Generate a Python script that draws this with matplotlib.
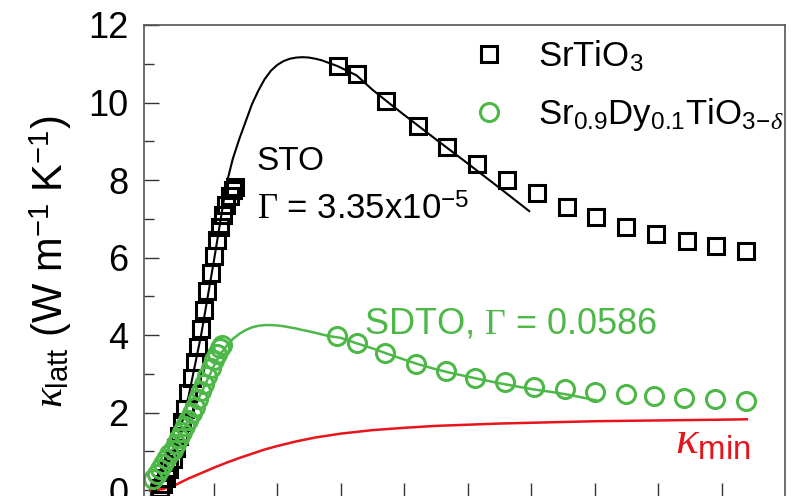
import numpy as np
import matplotlib
matplotlib.use('Agg')
import matplotlib.pyplot as plt

plt.rcParams['font.family'] = ['Liberation Sans', 'DejaVu Sans']
plt.rcParams['mathtext.fontset'] = 'custom'
plt.rcParams['mathtext.rm'] = 'Liberation Sans'
plt.rcParams['mathtext.it'] = 'Liberation Serif:italic'
plt.rcParams['mathtext.sf'] = 'Liberation Serif'   # serif Gamma via \mathsf

# SrTiO3 measured points (T in K, kappa in W/mK)
sto_T = [1.5, 2.0, 2.5, 3.0, 3.5, 4.0, 4.5, 5.0, 5.5, 6.0, 6.5, 7.0, 7.5, 8.0,
         8.5, 9.0, 9.5, 10.0, 10.5, 11.0, 11.5, 12.0, 12.5, 13.0, 13.3,
         29.5, 32.5, 37.2, 42.1, 46.8, 51.5, 56.2, 60.9, 65.6, 70.3, 75.0,
         79.7, 84.5, 89.2, 93.9]
sto_k = [0.05, 0.15, 0.32, 0.55, 0.8, 1.08, 1.4, 1.75, 2.1, 2.5, 2.9, 3.3, 3.7,
         4.15, 4.65, 5.15, 5.6, 6.05, 6.45, 6.8, 7.1, 7.35, 7.58, 7.75, 7.82,
         10.94, 10.74, 10.04, 9.39, 8.85, 8.41, 8.0, 7.66, 7.30, 7.05, 6.79,
         6.61, 6.43, 6.30, 6.17]

# Sr0.9Dy0.1TiO3-d measured points
sdto_T = [0.5, 1.0, 1.5, 2.0, 2.5, 3.0, 3.5, 4.0, 4.5, 5.0, 5.5, 6.0, 6.5,
          7.0, 7.5, 8.0, 8.5, 9.0, 9.5, 10.0, 10.5, 11.0, 11.3,
          29.4, 32.5, 37.0, 41.9, 46.6, 51.2, 55.9, 60.4, 65.3, 70.0, 74.9,
          79.4, 84.1, 89.0, 93.9]
sdto_k = [0.3, 0.42, 0.55, 0.68, 0.8, 0.93, 1.05, 1.2, 1.35, 1.5, 1.65, 1.8,
          1.98, 2.15, 2.35, 2.55, 2.75, 2.95, 3.15, 3.35, 3.52, 3.67, 3.74,
          3.97, 3.79, 3.54, 3.25, 3.07, 2.89, 2.79, 2.66, 2.61, 2.53, 2.48,
          2.43, 2.37, 2.35, 2.30]

# Callaway model fits
fit_sto_T = [0, 2, 4, 6, 8, 10, 11, 12, 13, 14, 15, 16, 17, 18, 19, 20, 21, 22,
             23, 24, 25, 26, 27, 28, 29.5, 32.5, 35, 37.2, 40, 45, 50, 55, 59.7]
fit_sto_k = [0, 0.3, 1.1, 2.4, 4.0, 5.9, 6.9, 7.9, 8.55, 9.05, 9.5, 9.95, 10.3,
             10.6, 10.82, 10.97, 11.07, 11.13, 11.16, 11.17, 11.16, 11.13,
             11.09, 11.03, 10.94, 10.7, 10.33, 10.04, 9.68, 9.05, 8.43, 7.8, 7.2]

fit_sdto_T = [0, 2, 4, 6, 8, 10, 11, 12, 13, 14, 15, 16, 17, 18, 19, 20, 21, 22,
              23, 24, 25, 26, 27, 28, 30, 32.5, 35, 37, 40, 42, 45, 47, 50, 52,
              55, 58, 60, 63, 66, 70.2]
fit_sdto_k = [0, 0.62, 1.2, 1.8, 2.5, 3.2, 3.5, 3.72, 3.9, 4.03, 4.13, 4.2,
              4.24, 4.26, 4.26, 4.25, 4.23, 4.2, 4.17, 4.13, 4.1, 4.06, 4.02,
              3.98, 3.93, 3.79, 3.66, 3.54, 3.37, 3.26, 3.12, 3.04, 2.93, 2.86,
              2.76, 2.67, 2.61, 2.54, 2.46, 2.32]

# minimum thermal conductivity
kmin_T = [0, 2, 4, 6, 8, 10, 12, 14, 16, 18, 20, 23, 26, 30, 35, 40, 45, 50,
          55, 60, 65, 70, 75, 80, 85, 90, 94]
kmin_k = [0, 0.03, 0.14, 0.3, 0.44, 0.58, 0.71, 0.83, 0.94, 1.05, 1.14, 1.26,
          1.36, 1.46, 1.55, 1.61, 1.66, 1.69, 1.72, 1.74, 1.76, 1.78, 1.79,
          1.80, 1.81, 1.82, 1.83]

green = '#4db848'
red = '#e8141b'

fig = plt.figure(figsize=(7.95, 4.96), dpi=100)
ax = fig.add_axes([0.1811, -0.004, 0.8063, 0.9536])

ax.plot(fit_sto_T, fit_sto_k, color='black', lw=1.5)
ax.plot(fit_sdto_T, fit_sdto_k, color=green, lw=1.8)
ax.plot(kmin_T, kmin_k, color=red, lw=1.8)
ax.plot(sto_T, sto_k, 's', ms=12, mfc='none', mec='black', mew=2.2,
        label=r'SrTiO$_3$')
ax.plot(sdto_T, sdto_k, 'o', ms=13, mfc='none', mec=green, mew=2.2,
        label=r'Sr$_{0.9}$Dy$_{0.1}$TiO$_{3\!-\!\delta}$')

ax.text(16.8, 8.26, 'STO', fontsize=24)
ax.text(16.8, 6.97, r'$\mathsf{\Gamma}$ = 3.35x10$^{-5}$', fontsize=25)
ax.text(33.6, 4.05, r'SDTO, $\mathsf{\Gamma}$ = 0.0586', fontsize=26,
        color=green)
ax.text(82.7, 0.95, r'$\kappa_{\mathrm{min}}$', fontsize=34, color=red)

ax.set_xlim(-1, 100)
ax.set_ylim(-0.2, 12)
ax.set_xticks(np.arange(0, 100, 10))
ax.set_yticks(np.arange(0, 13, 2))
ax.set_yticks(np.arange(1, 12, 2), minor=True)
ax.tick_params(axis='both', which='major', direction='in', length=11,
               width=1, labelsize=26, pad=11, color='#333333')
ax.tick_params(axis='x', labelbottom=False)
ax.tick_params(axis='y', which='minor', direction='in', length=7, width=1,
               color='#333333')
for sp in ax.spines.values():
    sp.set_color('#555555')
    sp.set_linewidth(1.2)

ax.set_ylabel(r'$\kappa_{\mathrm{latt}}$ (W m$^{-1}$ K$^{-1}$)', fontsize=30,
              labelpad=10)

ax.legend(loc='upper right', bbox_to_anchor=(1.025, 1.008), frameon=False,
          fontsize=25, handlelength=0.9, handletextpad=0.95, labelspacing=0.65,
          borderaxespad=0.1)

fig.savefig('out.png', dpi=100)
